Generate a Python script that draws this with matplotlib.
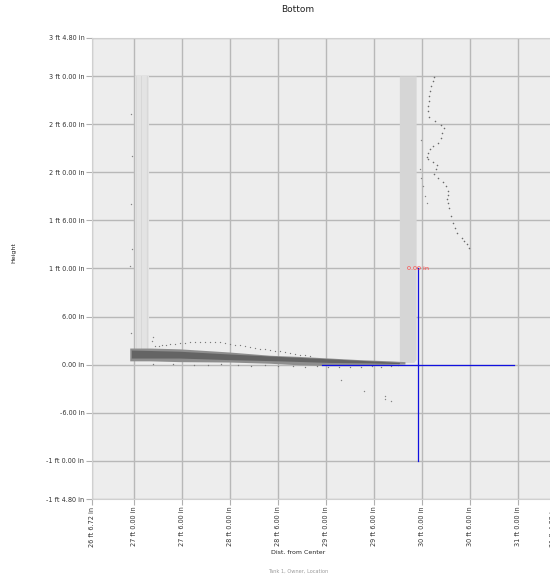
import numpy as np
from matplotlib import pyplot as plt
from matplotlib.ticker import FixedLocator, FuncFormatter

# all lengths in inches: x = distance from center, y = height
X_MIN, X_MAX = 318.72, 376.32
Y_MIN, Y_MAX = -16.8, 40.8

# left wall (scan band)
left_wall_x = [324.1, 325.8, 325.8, 324.1]
left_wall_y = [1.0, 1.0, 36.1, 36.1]

# right wall (scan band)
right_wall_x = [357.2, 359.0, 359.3, 359.3, 357.2]
right_wall_y = [0.2, 0.2, 0.6, 36.0, 36.0]

# floor band, outer envelope (top edge then bottom edge)
floor_top_x = [323.5, 326.0, 329.7, 336.0, 341.0, 344.7, 348.5, 352.2, 356.0, 357.9]
floor_top_y = [2.0, 2.0, 1.9, 1.5, 1.1, 0.95, 0.75, 0.55, 0.4, 0.3]
floor_bot_x = [357.9, 356.0, 352.2, 348.5, 344.7, 341.0, 336.0, 329.7, 326.0, 323.5]
floor_bot_y = [0.0, -0.05, -0.2, -0.2, -0.1, 0.1, 0.25, 0.3, 0.4, 0.4]

# floor band, dense core
core_top_x = [323.7, 329.7, 336.0, 342.2, 348.5, 353.5, 357.2]
core_top_y = [1.75, 1.6, 1.25, 0.95, 0.65, 0.4, 0.2]
core_bot_x = [357.2, 353.5, 348.5, 342.2, 336.0, 329.7, 323.7]
core_bot_y = [0.05, 0.15, 0.2, 0.4, 0.55, 0.75, 0.75]

# arc of points above the floor
arc_x = [326.6, 327.1, 327.5, 328.0, 328.5, 329.1, 329.7, 330.4, 331.0, 331.6, 332.2,
         332.9, 333.5, 334.1, 334.7, 335.4, 336.0, 336.6, 337.2, 337.9, 338.5, 339.1,
         339.7, 340.4, 341.0, 341.6, 342.2, 342.9, 343.5, 344.1, 344.7, 345.4, 346.0]
arc_y = [2.29, 2.37, 2.44, 2.5, 2.56, 2.62, 2.69, 2.75, 2.81, 2.83, 2.84, 2.84, 2.84,
         2.81, 2.78, 2.67, 2.56, 2.47, 2.38, 2.28, 2.19, 2.1, 2.0, 1.9, 1.81, 1.72,
         1.63, 1.53, 1.44, 1.35, 1.25, 1.15, 1.05]

# points below the floor band
below_x = [326.4, 328.9, 331.5, 333.2, 334.8, 337.0, 338.6, 340.3, 342.0, 343.8,
           345.3, 346.9, 348.2, 349.6, 351.0, 352.4, 353.7, 354.9, 356.1, 357.0]
below_y = [0.1, 0.05, 0.0, -0.1, 0.05, -0.05, -0.15, -0.1, -0.2, -0.15,
           -0.25, -0.2, -0.3, -0.35, -0.25, -0.3, -0.2, -0.25, -0.15, -0.1]

# stray points
stray_x = [323.6, 323.7, 323.6, 323.7, 323.5, 323.6, 326.35, 326.2,
           349.9, 352.7, 355.35, 355.35, 356.1,
           359.7, 359.9, 359.9, 360.1, 360.35, 360.6]
stray_y = [31.25, 26.0, 20.0, 14.4, 12.3, 4.0, 3.5, 2.9,
           -1.9, -3.25, -3.9, -4.3, -4.6,
           24.4, 28.1, 23.3, 22.3, 21.0, 20.2]

# sparse points right of the right wall
side_x = [361.47, 361.31, 361.1, 360.97, 360.89, 360.8, 360.76, 360.72, 360.85, 361.6,
          362.35, 362.76, 362.43, 362.3, 361.97, 361.38, 361.01, 360.72, 360.63, 360.76,
          361.31, 361.85, 361.72, 361.47, 362.01, 362.64, 362.93, 363.18, 363.26, 363.1,
          363.26, 363.35, 363.6, 363.89, 364.1, 364.38, 364.93, 365.26, 365.55, 365.85]
side_y = [35.96, 35.41, 34.79, 34.16, 33.54, 32.91, 32.29, 31.66, 30.96, 30.41,
          29.91, 29.5, 28.88, 28.25, 27.71, 27.29, 26.88, 26.46, 25.96, 25.63,
          25.29, 24.88, 24.46, 23.75, 23.25, 22.84, 22.29, 21.66, 21.13, 20.63,
          20.13, 19.59, 18.54, 17.71, 17.08, 16.38, 15.84, 15.41, 15.0, 14.59]

# reference cross
cross_x = 359.5
cross_y = 0.0
cross_half = 12.0
cross_label = '0.00 in'

x_ticks = [X_MIN, 324, 330, 336, 342, 348, 354, 360, 366, 372, X_MAX]
y_ticks = [Y_MIN, -12, -6, 0, 6, 12, 18, 24, 30, 36, Y_MAX]


def ft_in(v, pos=None):
    sign = '-' if v < 0 else ''
    a = abs(v)
    ft = int(a // 12)
    inch = a - ft * 12
    if ft == 0:
        return '{}{:.2f} in'.format(sign, inch)
    return '{}{} ft {:.2f} in'.format(sign, ft, inch)


plt.rcParams['hatch.linewidth'] = 0.4

fig = plt.figure(figsize=(5.5, 5.79), dpi=100)
ax = fig.add_axes([92 / 550, 80 / 579, 460.8 / 550, 461 / 579])
ax.set_facecolor('#ededed')

# left wall is a sparser scan, drawn with a light column texture
ax.fill(left_wall_x, left_wall_y, facecolor='#e3e3e3', edgecolor='#cfcfcf',
        hatch='|||', lw=0, zorder=2)
ax.fill(right_wall_x, right_wall_y, facecolor='#d6d6d6', edgecolor='none', zorder=2)
ax.fill(floor_top_x + floor_bot_x, floor_top_y + floor_bot_y,
        facecolor='#8e8e8e', edgecolor='none', zorder=3)
ax.fill(core_top_x + core_bot_x, core_top_y + core_bot_y,
        facecolor='#646464', edgecolor='none', zorder=3)
ax.scatter(arc_x, arc_y, s=0.9, color='#7a7a7a', lw=0, zorder=3)
ax.scatter(below_x, below_y, s=1.0, color='#7a7a7a', lw=0, zorder=3)
ax.scatter(stray_x, stray_y, s=1.0, color='#858585', lw=0, zorder=3)
ax.scatter(side_x, side_y, s=1.3, color='#6a6a6a', lw=0, zorder=3)

ax.plot([cross_x - cross_half, cross_x + cross_half], [cross_y, cross_y],
        color='#1010e0', lw=0.9, zorder=4)
ax.plot([cross_x, cross_x], [cross_y - cross_half, cross_y + cross_half],
        color='#1010e0', lw=0.9, zorder=4)
ax.text(cross_x, cross_y + cross_half, cross_label, color='#ff3b3b', fontsize=4.6,
        ha='center', va='center', zorder=5)

ax.set_xlim(X_MIN, X_MAX)
ax.set_ylim(Y_MIN, Y_MAX)
ax.xaxis.set_major_locator(FixedLocator(x_ticks))
ax.yaxis.set_major_locator(FixedLocator(y_ticks))
ax.xaxis.set_major_formatter(FuncFormatter(ft_in))
ax.yaxis.set_major_formatter(FuncFormatter(ft_in))
ax.grid(True, color='#b8b8b8', lw=1.0, zorder=1)
ax.set_axisbelow(True)
ax.tick_params(axis='both', labelsize=4.7, colors='#b0b0b0', labelcolor='#333333',
               length=4, width=0.8, pad=1.5)
ax.tick_params(axis='x', labelrotation=90)
for s in ax.spines.values():
    s.set_color('#d0d0d0')
    s.set_linewidth(0.8)

fig.text(298 / 550, 1 - 10 / 579, 'Bottom', fontsize=6.5, color='#222222',
         ha='center', va='center')
fig.text(298 / 550, 1 - 553 / 579, 'Dist. from Center', fontsize=4.5, color='#222222',
         ha='center', va='center')
fig.text(298 / 550, 1 - 571 / 579, 'Tank 1, Owner, Location', fontsize=3.6,
         color='#9a9a9a', ha='center', va='center')
fig.text(14 / 550, 1 - 253 / 579, 'Height', fontsize=4.5, color='#222222',
         rotation=90, ha='center', va='center')

fig.savefig('out.png', dpi=100)
